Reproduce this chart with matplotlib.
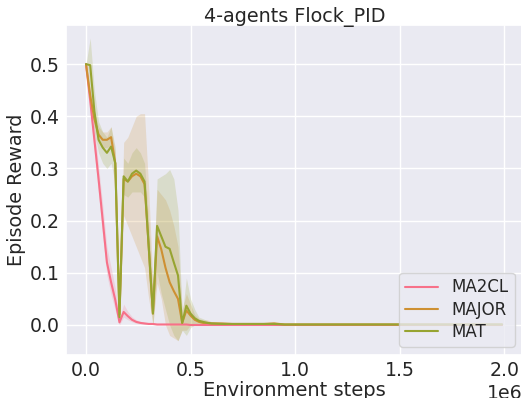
import matplotlib
matplotlib.use("Agg")
import matplotlib.pyplot as plt
import seaborn as sns
import numpy as np

sns.set_theme(style="darkgrid")
plt.rcParams['font.family'] = ['DejaVu Sans']

# environment steps (in units of 1e6)
steps = [0.00, 0.02, 0.04, 0.06, 0.08, 0.10, 0.12, 0.14, 0.16, 0.18,
         0.20, 0.22, 0.24, 0.26, 0.28, 0.30, 0.32, 0.34, 0.36, 0.38,
         0.40, 0.42, 0.44, 0.46, 0.48, 0.50, 0.52, 0.54, 0.56, 0.58,
         0.60, 0.65, 0.70, 0.75, 0.80, 0.85, 0.90, 0.95, 1.00, 1.05,
         1.10, 1.15, 1.20, 1.25, 1.30, 1.35, 1.40, 1.45, 1.50, 1.55,
         1.60, 1.65, 1.70, 1.75, 1.80, 1.85, 1.90, 1.95, 1.99]

ma2cl_mean = [0.500, 0.430, 0.355, 0.280, 0.200, 0.120, 0.082, 0.048, 0.005, 0.025,
              0.017, 0.010, 0.006, 0.004, 0.003, 0.002, 0.002, 0.001, 0.001, 0.001,
              0.001, 0.001, 0.001, 0.001, 0.001, 0.000, 0.000, 0.000, 0.000, 0.000,
              0.000, 0.000, 0.000, 0.000, 0.000, 0.000, 0.000, 0.000, 0.000, 0.000,
              0.000, 0.000, 0.000, 0.000, 0.000, 0.000, 0.000, 0.000, 0.000, 0.000,
              0.000, 0.000, 0.000, 0.000, 0.000, 0.000, 0.000, 0.000, 0.000]
ma2cl_lo = [0.500, 0.410, 0.330, 0.250, 0.170, 0.095, 0.058, 0.028, 0.000, 0.015,
            0.010, 0.006, 0.003, 0.002, 0.001, 0.001, 0.001, 0.000, 0.000, 0.000,
            0.000, 0.000, 0.000, 0.000, 0.000, 0.000, 0.000, 0.000, 0.000, 0.000,
            0.000, 0.000, 0.000, 0.000, 0.000, 0.000, 0.000, 0.000, 0.000, 0.000,
            0.000, 0.000, 0.000, 0.000, 0.000, 0.000, 0.000, 0.000, 0.000, 0.000,
            0.000, 0.000, 0.000, 0.000, 0.000, 0.000, 0.000, 0.000, 0.000]
ma2cl_hi = [0.500, 0.450, 0.380, 0.305, 0.230, 0.150, 0.110, 0.070, 0.012, 0.040,
            0.026, 0.016, 0.010, 0.007, 0.005, 0.004, 0.003, 0.002, 0.002, 0.002,
            0.002, 0.002, 0.002, 0.002, 0.002, 0.001, 0.001, 0.001, 0.001, 0.001,
            0.001, 0.001, 0.001, 0.001, 0.001, 0.001, 0.001, 0.001, 0.001, 0.001,
            0.001, 0.001, 0.001, 0.001, 0.001, 0.001, 0.001, 0.001, 0.001, 0.001,
            0.001, 0.001, 0.001, 0.001, 0.001, 0.001, 0.001, 0.001, 0.001]

major_mean = [0.500, 0.440, 0.395, 0.365, 0.355, 0.355, 0.360, 0.310, 0.020, 0.280,
              0.275, 0.285, 0.290, 0.285, 0.270, 0.150, 0.022, 0.170, 0.145, 0.110,
              0.082, 0.065, 0.050, 0.004, 0.028, 0.018, 0.010, 0.006, 0.004, 0.004,
              0.003, 0.003, 0.002, 0.002, 0.002, 0.002, 0.003, 0.001, 0.001, 0.001,
              0.001, 0.001, 0.001, 0.001, 0.001, 0.001, 0.001, 0.001, 0.001, 0.001,
              0.001, 0.001, 0.001, 0.001, 0.001, 0.001, 0.001, 0.001, 0.001]
major_lo = [0.500, 0.430, 0.380, 0.350, 0.340, 0.340, 0.345, 0.290, 0.005, 0.210,
            0.190, 0.170, 0.150, 0.130, 0.110, 0.050, 0.000, 0.080, 0.050, 0.000,
            -0.020, -0.025, -0.030, -0.010, -0.010, 0.000, 0.002, 0.001, 0.000, 0.000,
            0.000, 0.000, 0.000, 0.000, 0.000, 0.000, 0.000, 0.000, 0.000, 0.000,
            0.000, 0.000, 0.000, 0.000, 0.000, 0.000, 0.000, 0.000, 0.000, 0.000,
            0.000, 0.000, 0.000, 0.000, 0.000, 0.000, 0.000, 0.000, 0.000]
major_hi = [0.500, 0.450, 0.410, 0.380, 0.370, 0.370, 0.380, 0.330, 0.035, 0.350,
            0.360, 0.380, 0.400, 0.405, 0.405, 0.260, 0.080, 0.260, 0.250, 0.240,
            0.220, 0.190, 0.150, 0.030, 0.060, 0.040, 0.020, 0.012, 0.010, 0.010,
            0.006, 0.005, 0.004, 0.004, 0.004, 0.004, 0.006, 0.002, 0.002, 0.002,
            0.002, 0.002, 0.002, 0.002, 0.002, 0.002, 0.002, 0.002, 0.002, 0.002,
            0.002, 0.002, 0.002, 0.002, 0.002, 0.002, 0.002, 0.002, 0.002]

mat_mean = [0.500, 0.498, 0.410, 0.355, 0.340, 0.330, 0.342, 0.310, 0.015, 0.285,
            0.275, 0.290, 0.296, 0.290, 0.275, 0.150, 0.022, 0.190, 0.170, 0.150,
            0.146, 0.120, 0.095, 0.004, 0.037, 0.022, 0.013, 0.008, 0.006, 0.004,
            0.003, 0.002, 0.002, 0.002, 0.002, 0.002, 0.002, 0.001, 0.001, 0.001,
            0.001, 0.001, 0.001, 0.001, 0.001, 0.001, 0.001, 0.001, 0.001, 0.001,
            0.001, 0.001, 0.001, 0.001, 0.001, 0.001, 0.001, 0.001, 0.001]
mat_lo = [0.500, 0.450, 0.370, 0.330, 0.310, 0.300, 0.310, 0.270, 0.005, 0.250,
          0.245, 0.255, 0.255, 0.255, 0.245, 0.090, 0.000, 0.100, 0.060, 0.030,
          0.000, -0.020, -0.030, -0.010, -0.020, -0.005, 0.000, 0.000, 0.000, 0.000,
          0.000, 0.000, 0.000, 0.000, 0.000, 0.000, 0.000, 0.000, 0.000, 0.000,
          0.000, 0.000, 0.000, 0.000, 0.000, 0.000, 0.000, 0.000, 0.000, 0.000,
          0.000, 0.000, 0.000, 0.000, 0.000, 0.000, 0.000, 0.000, 0.000]
mat_hi = [0.500, 0.550, 0.450, 0.390, 0.370, 0.360, 0.380, 0.340, 0.030, 0.320,
          0.310, 0.330, 0.340, 0.330, 0.310, 0.200, 0.060, 0.280, 0.285, 0.290,
          0.298, 0.280, 0.220, 0.020, 0.090, 0.050, 0.030, 0.015, 0.012, 0.008,
          0.006, 0.004, 0.004, 0.004, 0.004, 0.004, 0.004, 0.002, 0.002, 0.002,
          0.002, 0.002, 0.002, 0.002, 0.002, 0.002, 0.002, 0.002, 0.002, 0.002,
          0.002, 0.002, 0.002, 0.002, 0.002, 0.002, 0.002, 0.002, 0.002]

labels = ["MA2CL", "MAJOR", "MAT"]
title = "4-agents Flock_PID"

x = np.array(steps) * 1e6
series = [(ma2cl_mean, ma2cl_lo, ma2cl_hi),
          (major_mean, major_lo, major_hi),
          (mat_mean, mat_lo, mat_hi)]
colors = sns.color_palette("husl", 8)[:3]

fig = plt.figure(figsize=(5.21, 3.98), dpi=100)
ax = fig.add_axes([66 / 521, 43 / 398, 457 / 521, 330 / 398])

for (m, lo, hi), lab, c in zip(series, labels, colors):
    ax.fill_between(x, lo, hi, color=c, alpha=0.2, linewidth=0)
    ax.plot(x, m, color=c, lw=1.5, label=lab)

ax.set_xlim(-0.0957e6, 2.09e6)
ax.set_ylim(-0.0575, 0.575)
ax.set_xticks([0, 0.5e6, 1.0e6, 1.5e6, 2.0e6])
ax.set_yticks([0.0, 0.1, 0.2, 0.3, 0.4, 0.5])
ax.tick_params(labelsize=13.6, length=0, pad=4.3)
ax.xaxis.get_offset_text().set_fontsize(13.6)
ax.set_title(title, fontsize=13.8, pad=2.2)
ax.set_xlabel("Environment steps", fontsize=14, labelpad=0.7)
ax.set_ylabel("Episode Reward", fontsize=13.8, labelpad=3)
ax.legend(loc="lower right", fontsize=12, labelspacing=0.25, borderpad=0.35)

fig.savefig("out.png", dpi=100)
